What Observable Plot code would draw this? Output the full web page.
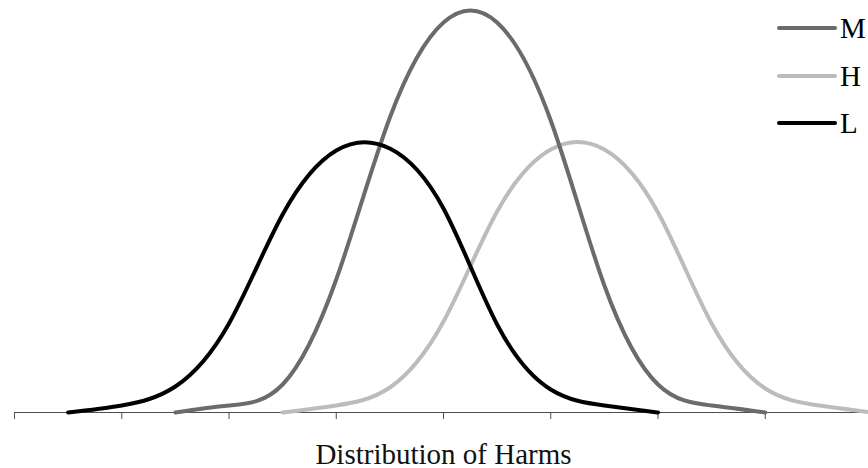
<!DOCTYPE html>
<html><head><meta charset="utf-8">
<script src="https://cdn.jsdelivr.net/npm/d3@7"></script>
<script src="https://cdn.jsdelivr.net/npm/@observablehq/plot@0.6"></script>
<style>
html,body{margin:0;padding:0;background:#fff;overflow:hidden;}
#wrap{position:relative;width:868px;height:468px;overflow:hidden;}
#legend{position:absolute;left:777px;top:0;font-family:"Liberation Serif",serif;font-size:29px;color:#000;}
.item{position:absolute;left:0;display:flex;align-items:center;white-space:nowrap;height:30px;line-height:30px;}
.swatch{width:60px;height:4px;border-radius:2px;margin-right:3px;flex:none;}
</style></head><body><div id="wrap"><div id="legend"></div></div>
<script>
// ---- data ----
const seriesNames = ["M", "H", "L"];
const xLabel = "Distribution of Harms";
const harmsM = [1.5, 2, 2.5, 3, 3.5, 4, 4.5, 5, 5.5, 6, 6.5, 7];
const valuesM = [0, 0.007, 0.028, 0.133, 0.295, 0.390, 0.390, 0.292, 0.127, 0.028, 0.007, 0];
const harmsH = [2.5, 3, 3.5, 4, 4.5, 5, 5.5, 6, 6.5, 7, 7.5, 8];
const valuesH = [0, 0.007, 0.025, 0.091, 0.201, 0.263, 0.263, 0.200, 0.089, 0.024, 0.007, 0];
const harmsL = [0.5, 1, 1.5, 2, 2.5, 3, 3.5, 4, 4.5, 5, 5.5, 6];
const valuesL = [0, 0.007, 0.026, 0.089, 0.198, 0.262, 0.264, 0.204, 0.088, 0.023, 0.007, 0];

// ---- styles ----
const colors = {M: "#6b6b6b", H: "#bcbcbc", L: "#000000"};

// drawing order: H, M, L (L on top)
const rows = [];
const add = (name, xs, ys) => xs.forEach((x, i) => rows.push({series: name, x, y: ys[i]}));
add("H", harmsH, valuesH);
add("M", harmsM, valuesM);
add("L", harmsL, valuesL);

const plot = Plot.plot({
  width: 868,
  height: 468,
  marginTop: 0,
  marginRight: -4,
  marginBottom: 56,
  marginLeft: 14,
  style: {fontFamily: '"Liberation Serif", serif', background: "#fff", color: "#4d4d4d", overflow: "hidden"},
  x: {domain: [0, 8], line: true, tickSize: 7, tickFormat: () => "", label: null},
  y: {domain: [0, 0.412], axis: null},
  color: {domain: seriesNames, range: seriesNames.map(s => colors[s])},
  marks: [
    Plot.line(rows, {x: "x", y: "y", z: "series", stroke: "series", strokeWidth: 4,
      curve: "natural", strokeLinecap: "round", strokeLinejoin: "round"}),
    Plot.text([xLabel], {frameAnchor: "bottom", dy: 51, lineAnchor: "bottom",
      text: d => d, fontSize: 29, fill: "#111"})
  ]
});
document.getElementById("wrap").appendChild(plot);

// legend (overlaid at top right, as in the reference)
const legend = document.getElementById("legend");
seriesNames.forEach((s, i) => {
  const item = document.createElement("div");
  item.className = "item";
  item.style.top = (13 + i * 47.5) + "px";
  const sw = document.createElement("span");
  sw.className = "swatch";
  sw.style.background = colors[s];
  const t = document.createElement("span");
  t.textContent = s;
  item.appendChild(sw);
  item.appendChild(t);
  legend.appendChild(item);
});
</script></body></html>
